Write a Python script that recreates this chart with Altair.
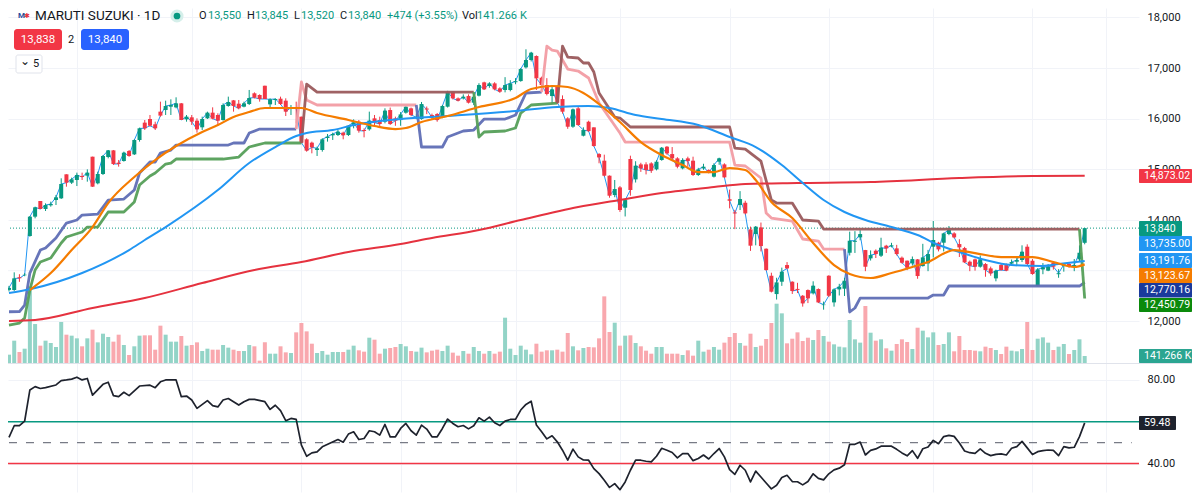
import altair as alt
import pandas as pd

OPEN = [12620,12618,12870,12910,13684,14066,14375,14217,14290,14395,14428,14902,14737,14790,14869,14875,15250,14724,14908,15244,
15375,15132,15165,15362,15296,15579,15922,15994,15889,16139,16172,16237,16224,16303,15987,16027,15961,15830,16007,16119,
16073,15974,16251,16362,16296,16237,16290,16501,16468,16652,16283,16369,16395,16356,16198,16218,16040,15593,15527,15382,
15382,15619,15672,15678,15724,15678,15856,15941,15777,15790,16007,15974,15941,16171,16006,15973,16118,16204,16010,15993,
16200,16072,16092,16026,16237,16533,16401,16401,16447,16316,16454,16717,16645,16697,16599,16566,16566,16720,16743,17013,
17158,17237,16809,16664,16447,16645,16388,16006,15842,16204,15664,15940,15829,15302,15171,14875,14493,14644,14243,15204,
14802,15098,15098,15118,15000,15184,15447,15302,15217,15019,15217,15171,14888,15019,14986,14855,15151,15098,14410,14150,
14296,14341,13815,13723,13854,13433,12900,12538,12782,13111,12782,12640,12505,12617,12552,12637,12320,12900,12374,12630,
12644,13354,13570,13657,13407,13243,13394,13295,13493,13480,13440,13256,13197,13144,13223,13091,13144,13473,13552,13552,
13723,13736,13525,13446,13177,13223,13078,13131,13045,12848,13111,13111,13140,13177,13210,13473,13197,12696,13025,13000,
13157,12930,13090,13131,13078,13223,13550]
HIGH = [12700,12967,12930,12950,14080,14263,14375,14329,14362,14494,14823,14902,14836,14935,14935,15000,15250,14954,15283,15382,
15382,15185,15349,15382,15593,15823,15974,16073,15941,16336,16356,16382,16422,16310,16073,16073,16007,16040,16139,16224,
16106,16303,16435,16369,16369,16336,16567,16520,16481,16652,16402,16402,16435,16402,16270,16336,16040,15613,15547,15448,
15613,15698,15724,15777,15744,15875,15987,15974,15810,16139,16073,16040,16205,16220,16040,16130,16240,16220,16100,16330,
16240,16100,16110,16270,16550,16540,16420,16480,16480,16500,16700,16730,16720,16720,16620,16820,16760,16800,17000,17370,
17320,17250,16830,16800,16640,16660,16460,16030,16200,16240,15830,15960,15830,15320,15290,14880,14790,14670,14400,15270,
15160,15130,15140,15140,15180,15440,15460,15440,15240,15220,15250,15250,15030,15110,15000,15120,15230,15120,14600,14200,
14570,14380,13870,13880,13950,13440,12960,12860,13060,13170,12790,12760,12520,12630,12790,12650,12390,12910,12650,12740,
12860,13770,13780,13800,13410,13400,13420,13650,13510,13550,13510,13280,13200,13280,13230,13530,13410,13980,13570,13750,
13880,13760,13620,13470,13200,13240,13300,13150,13080,13020,13140,13140,13220,13270,13500,13520,13230,13050,13150,13130,
13190,13030,13140,13150,13230,13500,13845]
LOW = [12590,12600,12780,12890,13670,14033,14217,14178,14263,14296,14415,14658,14711,14671,14790,14757,14658,14704,14889,15217,
15086,15053,15152,15250,15283,15547,15777,15843,15777,16040,16073,16073,16205,15974,15941,15876,15724,15777,15994,15987,
15856,15961,16237,16139,16185,16224,16270,16400,16336,16389,16205,16270,16270,16053,16073,15908,15527,15349,15316,15264,
15349,15547,15580,15658,15593,15658,15810,15724,15632,15764,15875,15856,15908,15880,15860,15860,16100,16050,15990,15980,
16090,15990,15940,16010,16220,16380,16340,16380,16300,16270,16440,16570,16610,16560,16510,16520,16540,16680,16730,16990,
17130,16566,16560,16460,16290,16290,16100,15800,15820,15860,15650,15740,15450,15120,14860,14440,14450,14160,14070,14480,
14740,14950,14900,14930,14980,15170,15290,15200,15020,15000,15050,14870,14870,14990,14920,14840,15090,14830,14230,13820,
14197,14110,13390,13500,13380,13000,12570,12430,12700,13030,12540,12560,12290,12360,12530,12360,12230,12480,12290,12510,
12500,13300,13350,13600,12990,13200,13250,13270,13350,13460,13300,13140,13010,13100,12840,13080,12990,13260,13380,13380,
13700,13640,13270,13150,12990,13000,13060,12880,12900,12790,13000,12990,13120,13100,13170,13120,12920,12690,12930,12990,
13020,12860,12980,13060,12990,13180,13520]
CLOSE = [12660,12848,12850,12920,14066,14250,14217,14296,14316,14448,14711,14737,14803,14889,14849,14935,14658,14908,15264,15375,
15106,15106,15329,15264,15579,15810,15810,15862,15810,16060,16251,16270,16303,15974,16040,15941,15790,15994,16119,16000,
15961,16270,16330,16251,16205,16303,16409,16415,16389,16389,16382,16389,16290,16139,16218,16198,15527,15369,15435,15415,
15593,15645,15698,15744,15672,15862,15928,15764,15757,15961,15922,15895,16159,15894,15960,16085,16237,16072,16030,16289,
16180,16026,15973,16250,16533,16401,16355,16434,16316,16434,16664,16579,16697,16579,16533,16664,16697,16740,16980,17158,
17303,16796,16664,16487,16579,16316,16138,15842,16184,15875,15776,15756,15460,15236,14875,14480,14611,14197,14394,14592,
15072,15019,14986,14973,15151,15427,15315,15217,15052,15184,15164,14888,14999,15052,14934,15085,15217,14842,14380,14130,
14414,14131,13493,13868,13486,13012,12585,12769,12980,13045,12598,12620,12354,12453,12703,12374,12330,12505,12630,12683,
12802,13591,13590,13723,13078,13308,13328,13453,13440,13500,13328,13157,13058,13229,12894,13262,13328,13605,13420,13736,
13802,13657,13460,13164,13098,13078,13223,13012,12946,12999,13012,13000,13170,13210,13374,13131,12933,13025,13065,13078,
13078,12950,13120,13078,13111,13354,13840]
VOLUME_K = [168,451,222,289,1548,787,350,451,404,323,828,572,552,498,337,498,673,417,592,525,
431,572,363,162,337,552,559,559,269,754,572,431,431,545,350,363,417,242,289,269,
269,363,310,269,242,242,363,337,47,417,188,188,337,215,202,619,808,639,390,202,
242,168,222,222,222,269,350,256,229,511,471,188,289,303,323,384,337,242,229,310,
215,249,269,242,350,209,148,242,188,323,242,188,242,188,229,915,289,162,350,269,
175,390,229,256,256,269,229,606,337,256,303,323,316,498,1346,626,814,350,552,559,
404,337,249,188,323,323,188,188,188,162,256,148,451,229,269,323,269,411,525,606,
404,350,592,323,350,485,808,1198,1003,397,491,619,444,511,464,666,545,431,377,330,
316,868,478,411,1151,612,451,478,296,249,384,478,424,283,713,653,518,619,363,384,
619,236,545,262,262,249,236,330,303,262,182,330,249,236,283,828,262,491,518,411,
262,330,384,182,262,478,141.266]

EMA50_I = [0,4,14,23,26,30,40,46,51,55,57,62,66,75,84,97,105,111,115,120,125,132,138,143,148,152,156,160,164,169,174,178,182,187,192,198,201,206]
EMA50_P = [12559,12632,12953,13407,13605,13861,14592,15125,15441,15658,15717,15776,15875,15993,16053,16151,16230,16250,16211,16072,15993,15875,15638,15441,15085,14730,14394,14158,14000,13861,13704,13506,13368,13210,13111,13092,13131,13191.76]
EMA20_I = [4,8,12,16,19,24,28,32,37,40,43,46,49,52,56,59,65,70,74,76,79,84,90,97,100,104,107,110,113,117,121,125,129,132,135,138,141,143,146,150,154,158,161,165,169,173,176,181,185,190,196,200,204,206]
EMA20_P = [12618,12953,13407,13861,14335,14849,15184,15460,15737,15875,16033,16132,16211,16211,16211,16112,15974,15855,15796,15816,15934,16053,16230,16408,16586,16645,16625,16507,16290,15934,15539,15283,15085,14947,14947,15026,14987,14789,14355,14039,13546,13111,12934,12855,12953,13072,13171,13407,13348,13269,13269,13171,13072,13123.67]
EMA200_I = [0,5,16,26,37,47,56,65,75,81,90,98,109,117,125,135,141,151,165,182,196,206]
EMA200_P = [12006,12026,12263,12460,12756,13013,13171,13368,13526,13644,13802,14000,14256,14394,14533,14651,14710,14730,14750,14829,14868,14873.02]

# Trailing band A: (bar, price) per trend segment
A_SLATE_1 = ([0,2,3,4,6,7,9,11,13,14,17,19,22,24,25,27,28,29,31,32,42,43,45,46,48,55],
             [12189,12190,12322,12953,13407,13447,13644,13940,14000,14098,14118,14394,14414,14592,14927,15145,15145,15322,15381,15480,15480,15520,15520,15717,15796,15796])
A_PINK_1 = ([55,56,57,59,78],[15796,16724,16369,16270,16270])
A_SLATE_2 = ([78,79,83,84,86,87,89,91,95,97,99,102],[16270,15441,15441,15638,15717,15757,15776,15993,15993,16072,16507,16526])
A_PINK_2 = ([102,103,104,105,107,109,111,113,115,117,118,138,139,141,144,145,146,150,152,155,156,160],
            [16526,17434,17355,17336,16980,16941,16803,16309,16013,15717,15539,15539,15085,15066,14829,14138,14039,13980,13625,13585,13427,13427])
A_SLATE_3 = ([160,161,162,163,176,177,179,180,205,206],[13427,12184,12263,12460,12460,12519,12519,12697,12697,12770.16])
# Trailing band B
B_GREEN_1 = ([0,2,3,4,5,6,8,10,11,14,15,17,19,22,24,25,27,28,30,31,32,41,44,46,49,56],
             [11927,11966,12065,12618,13013,13171,13250,13546,13664,13763,13861,13861,14158,14158,14355,14691,14868,14927,15105,15125,15204,15204,15243,15441,15520,15520])
B_BROWN_1 = ([56,57,59,89],[15520,16684,16526,16526])
B_GREEN_2 = ([89,90,91,95,97,98,100,105],[16526,15638,15737,15757,15816,16112,16270,16309])
B_BROWN_2 = ([105,106,107,109,110,111,112,113,116,117,119,138,139,141,144,146,147,150,152,155,156,205],
             [16309,17434,17217,17198,17099,17099,16921,16507,16033,16013,15836,15836,15421,15401,15164,14394,14335,14335,14000,13980,13822,13822])
B_GREEN_3 = ([205,206],[13822,12450.79])

RSI_I = [0,1,2,3,4,5,6,7,9,10,11,12,13,14,15,16,18,19,20,21,22,23,25,27,28,29,30,32,33,34,35,36,38,39,40,41,42,44,45,46,47,49,50,51,52,53,54,55,56,57,58,59,60,63,64,65,66,67,68,69,70,71,72,73,74]+list(range(75,207))
RSI_V = [52.5,58.1,58.1,60.3,75.2,76.8,75.9,76.3,77.6,79.7,80,80.4,81.3,80,80.7,72.7,77.9,78.9,72.5,72,74.1,72.5,77.1,77.5,76.3,79.1,80,80,72,72.3,70.4,66.4,70.1,67.7,67.1,70.4,71.1,68,69.6,70.7,70.7,69.6,65.9,67.9,65.3,60.5,61.6,61.1,48.8,43.5,45.1,45.6,48,51.5,50.2,54.1,55.2,51.5,52,55.7,55.2,53.6,58.7,52.8,52.8,
56.8,59.2,55.7,53.6,58.4,56.5,52.8,52.8,56.8,61.3,59.2,57.6,58.2,56.6,58.1,61.9,60.3,62.2,59.5,58.2,60.3,61.1,61.1,65.6,68.3,69.8,58.4,55.2,51.8,53.3,50.4,46.4,41.6,46.9,43.2,41.7,41.6,37.6,35.2,32,28.6,30.4,27.5,31.2,36.8,41.7,41.6,41.1,40.8,43.5,47.3,46.4,45.3,42.7,44.8,44.8,41.4,42.4,44.1,42.2,44.8,47.2,43.2,37.1,34.8,39.2,36.8,31.2,36.4,33.6,30.7,27.9,29.6,33.3,
34.4,31.4,31.3,29.8,31.4,35.1,32.9,32.2,35.1,37,37.8,39.4,49.2,49.2,50.3,44.1,46.3,47,48.3,48.3,48.3,46.8,45.1,43.7,46.2,42.5,47.1,47.9,51.1,49.5,52.9,53.5,53,49.8,46,45.2,44.9,47,44.9,43.8,44.4,44.6,44.1,47.3,48.1,50.6,47.5,44.3,45.7,46.2,46.5,46.3,43.8,48.1,47.5,47.8,52.9,59.48]

PRICE_TICKS = [12000,14000,15000,16000,17000,18000]
HIDDEN_GRID = [13000]
RSI_TICKS = [40,80]
TIME_GRID = [13,35,56,75,97,117,138,157,177,196,210]

GREEN, RED = "#089981", "#f23645"
VGREEN, VRED = "#93d4c7", "#f9a8ae"
SLATE, PINK, MOSS, BROWN = "#5f6eb5", "#f29ca3", "#559f59", "#9a5a5c"
FONT = "Roboto"
GRID = "#f1f3f8"

n = len(CLOSE)
bars = pd.DataFrame({"i": range(n), "o": OPEN, "h": HIGH, "l": LOW, "c": CLOSE, "v": VOLUME_K})
bars["col"] = [GREEN if c >= o else RED for o, c in zip(OPEN, CLOSE)]
bars["vcol"] = [VGREEN if c >= o else VRED for o, c in zip(OPEN, CLOSE)]

W, H = 1131, 484
XS = alt.Scale(domain=[-0.19, 216.4], nice=False, zero=False, padding=0)
X_AXIS = alt.Axis(values=TIME_GRID, grid=True, gridColor=GRID, labels=False, ticks=False, domain=False, title=None)
X = alt.X("i:Q", scale=XS, axis=X_AXIS)
PS = alt.Scale(domain=[8631, 18185], nice=False, zero=False, padding=0)
VS = alt.Scale(domain=[-2606, 7171], nice=False, zero=False, padding=0)
RS = alt.Scale(domain=[26.4, 257.9], nice=False, zero=False, padding=0)


def right_axis(values, fmt):
    return alt.Axis(orient="right", values=values, format=fmt, grid=True, gridColor=GRID, ticks=False, domain=False,
                    labelPadding=8, labelFont=FONT, labelFontSize=11, labelColor="#131722", labelOverlap=False,
                    labelFlush=False, title=None)


def PY(field, axis=None):
    return alt.Y(field + ":Q", scale=PS, axis=axis, title=None)


def line(xs, ys, color, width, opacity=1.0, interp="linear"):
    d = pd.DataFrame({"i": xs, "p": ys})
    return alt.Chart(d).mark_line(color=color, strokeWidth=width, opacity=opacity, strokeJoin="round",
                                  interpolate=interp).encode(x=X, y=PY("p"))


ONE = pd.DataFrame({"a": [0]})


def ptext(text, x, y, color="#131722", size=11.5, align="left", weight="normal", font=FONT):
    return alt.Chart(ONE).mark_text(text=text, align=align, baseline="middle", fontSize=size, color=color,
                                    font=font, fontWeight=weight).encode(x=alt.value(x - 8), y=alt.value(y - 8))


def prect(x1, x2, y1, y2, fill, radius=2, stroke=None):
    kw = {"stroke": stroke, "strokeWidth": 1} if stroke else {}
    return alt.Chart(ONE).mark_rect(color=fill, cornerRadius=radius, **kw).encode(
        x=alt.value(x1 - 8), x2=alt.value(x2 - 8), y=alt.value(y1 - 8), y2=alt.value(y2 - 8))


def hline_rsi(level, color, width=1.5, dash=None):
    kw = {"strokeDash": dash} if dash else {}
    return alt.Chart(pd.DataFrame({"r": [level]})).mark_rule(color=color, strokeWidth=width, **kw).encode(
        y=alt.Y("r:Q", scale=RS, axis=None, title=None))


layers = []
# grid for the price level whose label sits wholly behind the tags
layers.append(alt.Chart(pd.DataFrame({"p": HIDDEN_GRID})).mark_rule(color=GRID, strokeWidth=1).encode(y=PY("p")))
# volume
layers.append(alt.Chart(bars).mark_bar(size=4).encode(
    x=X, y=alt.Y("v:Q", scale=VS, axis=None, title=None), color=alt.Color("vcol:N", scale=None)))
# separator
layers.append(prect(8, 1192, 363, 364, "#e0e3eb", radius=0))
# thin close line, carries the price axis
layers.append(alt.Chart(bars).mark_line(color="#2196f3", strokeWidth=1).encode(
    x=X, y=PY("c", right_axis(PRICE_TICKS, ",d"))))
# dotted last price
layers.append(alt.Chart(pd.DataFrame({"p": [CLOSE[-1]]})).mark_rule(color=GREEN, strokeWidth=1, strokeDash=[1, 2]).encode(y=PY("p")))
# candles
layers.append(alt.Chart(bars).mark_rule(strokeWidth=1).encode(
    x=X, y=PY("l"), y2="h:Q", color=alt.Color("col:N", scale=None)))
layers.append(alt.Chart(bars).mark_bar(size=4).encode(
    x=X, y=PY("o"), y2="c:Q", color=alt.Color("col:N", scale=None)))
# trailing bands
for seg, col in [(A_SLATE_1, SLATE), (A_PINK_1, PINK), (A_SLATE_2, SLATE), (A_PINK_2, PINK), (A_SLATE_3, SLATE),
                 (B_GREEN_1, MOSS), (B_BROWN_1, BROWN), (B_GREEN_2, MOSS), (B_BROWN_2, BROWN), (B_GREEN_3, MOSS)]:
    layers.append(line(seg[0], seg[1], col, 2.8, 0.95))
# moving averages
layers.append(line(EMA200_I, EMA200_P, "#e5323f", 2, interp="monotone"))
layers.append(line(EMA50_I, EMA50_P, "#2196f3", 2, interp="monotone"))
layers.append(line(EMA20_I, EMA20_P, "#f57c00", 2.2, interp="monotone"))
# RSI panel
layers.append(hline_rsi(60, "#089981", 1.6))
layers.append(hline_rsi(40, "#f23645", 1.5))
layers.append(alt.Chart(pd.DataFrame({"r": [50], "i": [0], "i2": [215]})).mark_rule(color="#787b86", strokeWidth=1.3, strokeDash=[8, 9]).encode(
    x=X, x2="i2:Q", y=alt.Y("r:Q", scale=RS, axis=None, title=None)))
layers.append(alt.Chart(pd.DataFrame({"i": RSI_I, "r": RSI_V})).mark_line(color="#1e222d", strokeWidth=1.7, strokeJoin="round").encode(
    x=X, y=alt.Y("r:Q", scale=RS, axis=right_axis(RSI_TICKS, ".2f"), title=None)))

# price tags
for label, fill, y1, y2, x2 in [
    ("14,873.02", "#f23645", 169, 183, 1192),
    ("13,840", "#089981", 221, 236, 1182),
    ("13,735.00", "#2196f3", 236, 251, 1192),
    ("13,191.76", "#2196f3", 253, 268, 1192),
    ("13,123.67", "#f57c00", 268, 283, 1192),
    ("12,770.16", "#1a3a9c", 283, 297.5, 1192),
    ("12,450.79", "#0b8a0b", 298, 312, 1192),
    ("141.266 K", "#2ba591", 349, 363, 1192),
    ("59.48", "#1e222d", 416, 430, 1176),
]:
    layers.append(prect(1139, x2, y1, y2, fill, radius=1))
    layers.append(ptext(label, 1144, (y1 + y2) / 2, "#ffffff", 10.5))

# header
layers.append(ptext("M", 18, 16, "#2a4a9c", 8, weight="bold"))
layers.append(ptext("✱", 24, 16, "#e5323f", 7, font="DejaVu Sans"))
layers.append(ptext("MARUTI SUZUKI · 1D", 35, 16, "#131722", 13.5))
layers.append(alt.Chart(ONE).mark_point(filled=True, color="#d5efea", size=170, opacity=1).encode(x=alt.value(169), y=alt.value(8)))
layers.append(alt.Chart(ONE).mark_point(filled=True, color=GREEN, size=45, opacity=1).encode(x=alt.value(169), y=alt.value(8)))
for txt, x, col in [("O", 199, "#131722"), ("13,550", 208, GREEN), ("H", 247, "#131722"), ("13,845", 255, GREEN),
                    ("L", 294, "#131722"), ("13,520", 301, GREEN), ("C", 340, "#131722"), ("13,840", 348, GREEN),
                    ("+474 (+3.55%)", 387, GREEN), ("Vol", 462, "#131722"), ("141.266", 477, GREEN), ("K", 520, GREEN)]:
    layers.append(ptext(txt, x, 16, col, 11))
layers.append(prect(14, 62, 29, 50, "#f23645", radius=3))
layers.append(ptext("13,838", 38, 40, "#ffffff", 11.5, align="center"))
layers.append(ptext("2", 71, 40, "#131722", 11, align="center"))
layers.append(prect(81, 129, 29, 50, "#2962ff", radius=3))
layers.append(ptext("13,840", 105, 40, "#ffffff", 11.5, align="center"))
layers.append(prect(16, 42, 55, 73, "#ffffff", radius=2, stroke="#e0e3eb"))
layers.append(ptext("⌄", 25, 61, "#131722", 12, align="center", font="DejaVu Sans"))
layers.append(ptext("5", 36, 64, "#131722", 11, align="center"))

chart = alt.layer(*layers).resolve_scale(y="independent").properties(
    width=W, height=H, padding={"left": 0, "top": 0, "right": 53, "bottom": 2},
    autosize=alt.AutoSizeParams(type="none"),
).configure_view(stroke=None)

chart.save("out.html", embed_options={"renderer": "svg", "actions": False})
